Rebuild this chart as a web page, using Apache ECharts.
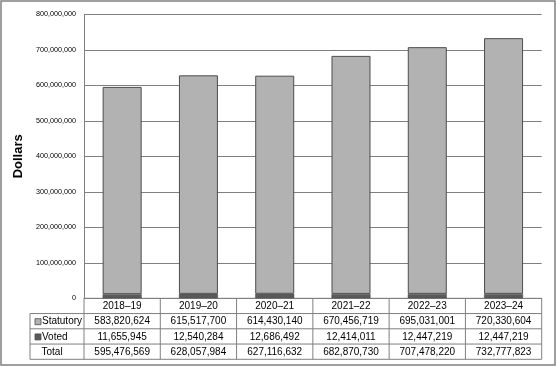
<!DOCTYPE html>
<html>
<head>
<meta charset="utf-8">
<script src="https://cdn.jsdelivr.net/npm/echarts@6/dist/echarts.min.js"></script>
<style>html,body{margin:0;padding:0;background:#fff}#c{width:556px;height:367px}</style>
</head>
<body>
<div id="c"></div>
<script>
var categories = ['2018\u201319', '2019\u201320', '2020\u201321', '2021\u201322', '2022\u201323', '2023\u201324'];
var statutory = [583820624, 615517700, 614430140, 670456719, 695031001, 720330604];
var voted = [11655945, 12540284, 12686492, 12414011, 12447219, 12447219];
var totals = [595476569, 628057984, 627116632, 682870730, 707478220, 732777823];
var yTicks = [0, 100000000, 200000000, 300000000, 400000000, 500000000, 600000000, 700000000, 800000000];

function fmt(v) { return String(v).replace(/\B(?=(\d{3})+(?!\d))/g, ','); }

var GL = 84, GR = 14.3, GT = 14.3, GB = 68.7;
var W = 556, H = 367;
var plotW = W - GL - GR;
var colW = plotW / categories.length;
var tableTop = H - GB;
var rowH = 15.25;
var tableLeft = 30;
var lineCol = '#808080';
var font = 'Liberation Sans, Arial, sans-serif';

var graphics = [];
// outer frame
graphics.push({type: 'rect', shape: {x: 1, y: 1, width: 554, height: 364}, style: {fill: 'none', stroke: lineCol, lineWidth: 1.5}, silent: true});
// horizontal table lines
for (var r = 1; r <= 4; r++) {
  var y = tableTop + r * rowH;
  graphics.push({type: 'line', shape: {x1: tableLeft, y1: y, x2: GL + plotW, y2: y}, style: {stroke: lineCol, lineWidth: 1}, silent: true});
}
graphics.push({type: 'line', shape: {x1: GL, y1: tableTop, x2: GL + plotW, y2: tableTop}, style: {stroke: lineCol, lineWidth: 1}, silent: true});
// vertical lines
graphics.push({type: 'line', shape: {x1: tableLeft, y1: tableTop + rowH, x2: tableLeft, y2: tableTop + 4 * rowH}, style: {stroke: lineCol, lineWidth: 1}, silent: true});
for (var k = 0; k <= categories.length; k++) {
  var x = GL + k * colW;
  graphics.push({type: 'line', shape: {x1: x, y1: tableTop, x2: x, y2: tableTop + 4 * rowH}, style: {stroke: lineCol, lineWidth: 1}, silent: true});
}
// cell texts
var rows = [categories, statutory.map(fmt), voted.map(fmt), totals.map(fmt)];
for (var r2 = 0; r2 < rows.length; r2++) {
  for (var c = 0; c < categories.length; c++) {
    graphics.push({type: 'text', x: GL + (c + 0.5) * colW, y: tableTop + (r2 + 0.5) * rowH + 0.5,
      style: {text: rows[r2][c], fill: '#000', font: '10px ' + font, textAlign: 'center', textVerticalAlign: 'middle'}, silent: true});
  }
}
// legend column
var legendNames = ['Statutory', 'Voted', 'Total'];
var legendColors = ['#b2b2b2', '#5a5a5a', null];
for (var i = 0; i < legendNames.length; i++) {
  var cy = tableTop + (i + 1.5) * rowH + 0.5;
  if (legendColors[i]) {
    graphics.push({type: 'rect', shape: {x: 35, y: cy - 3, width: 6, height: 6}, style: {fill: legendColors[i], stroke: '#4d4d4d', lineWidth: 0.8}, silent: true});
  }
  graphics.push({type: 'text', x: legendColors[i] ? 42 : 41.5, y: cy,
    style: {text: legendNames[i], fill: '#000', font: '10px ' + font, textAlign: 'left', textVerticalAlign: 'middle'}, silent: true});
}

var chart = echarts.init(document.getElementById('c'), null, {renderer: 'canvas'});
chart.setOption({
  animation: false,
  backgroundColor: '#fff',
  grid: {left: GL, right: GR, top: GT, bottom: GB, containLabel: false},
  xAxis: {
    type: 'category', data: categories,
    axisLine: {show: true, lineStyle: {color: lineCol, width: 1}},
    axisTick: {show: false}, axisLabel: {show: false}, splitLine: {show: false}
  },
  yAxis: {
    type: 'value', min: yTicks[0], max: yTicks[yTicks.length - 1], interval: yTicks[1] - yTicks[0],
    name: 'Dollars', nameLocation: 'middle', nameRotate: 90, nameGap: 54,
    nameTextStyle: {fontFamily: font, fontSize: 13, fontWeight: 'bold', color: '#000'},
    axisLine: {show: true, lineStyle: {color: lineCol, width: 1}},
    axisTick: {show: false},
    axisLabel: {formatter: function (v) { return fmt(v); }, fontFamily: font, fontSize: 7.2, color: '#000', margin: 8},
    splitLine: {show: true, lineStyle: {color: lineCol, width: 1}}
  },
  series: [
    {name: 'Voted', type: 'bar', stack: 'total', data: voted, barWidth: 39,
      itemStyle: {color: '#5a5a5a', borderColor: '#4d4d4d', borderWidth: 0.5}},
    {name: 'Statutory', type: 'bar', stack: 'total', data: statutory, barWidth: 39,
      itemStyle: {color: '#b2b2b2', borderColor: '#4d4d4d', borderWidth: 1}}
  ],
  graphic: graphics
});
</script>
</body>
</html>
